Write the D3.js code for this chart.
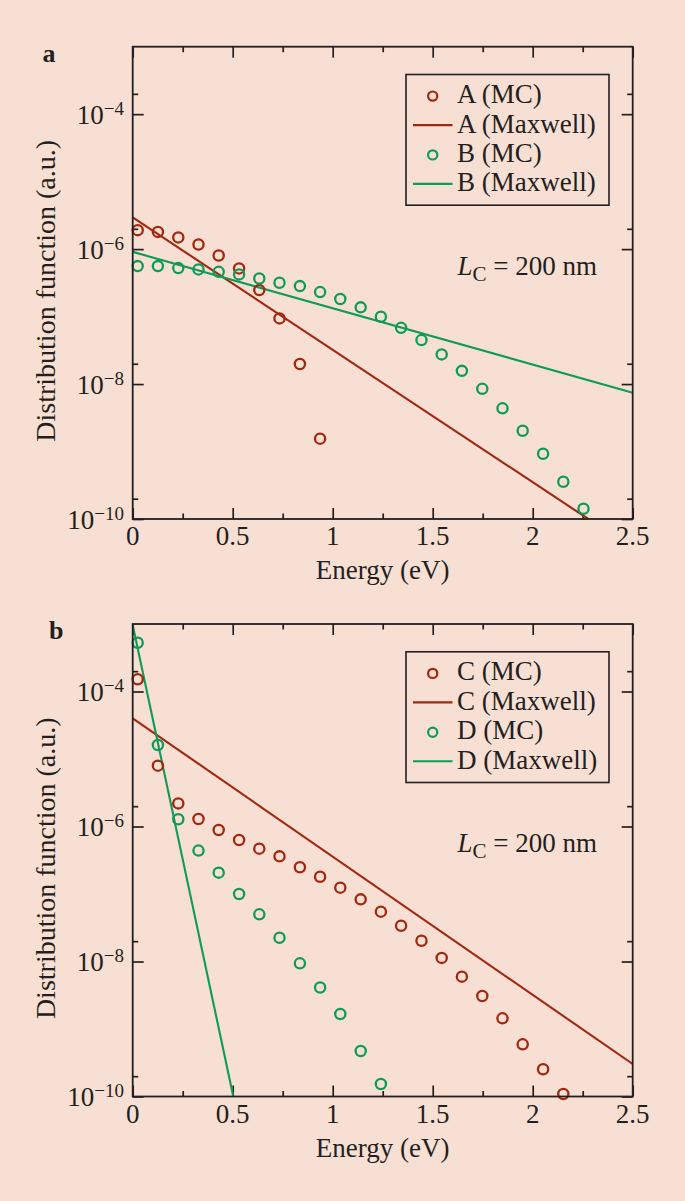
<!DOCTYPE html>
<html><head><meta charset="utf-8">
<script src="https://cdn.jsdelivr.net/npm/d3@7"></script>
<style>
html,body{margin:0;padding:0;background:#f8dfd4;}
svg{display:block;}
text{font-family:"Liberation Serif","Times New Roman",serif;fill:#231f20;}
</style></head>
<body>
<script>
// ---------- data ----------
const mcEnergies = [0.025,0.126,0.228,0.329,0.430,0.532,0.633,0.734,0.836,0.937,1.038,1.140,1.241,1.342,1.444,1.545,1.646,1.748,1.849,1.950,2.052,2.153,2.254];
const aMC = [1.91e-6,1.80e-6,1.49e-6,1.17e-6,8.05e-7,5.17e-7,2.47e-7,9.4e-8,1.98e-8,1.55e-9];
const bMC = [5.6e-7,5.6e-7,5.24e-7,5.0e-7,4.61e-7,4.22e-7,3.67e-7,3.17e-7,2.83e-7,2.31e-7,1.82e-7,1.37e-7,9.93e-8,6.82e-8,4.49e-8,2.75e-8,1.57e-8,8.5e-9,4.37e-9,2.03e-9,9.27e-10,3.57e-10,1.42e-10];
const cMC = [1.52e-4,7.96e-6,2.2e-6,1.29e-6,8.87e-7,6.31e-7,4.69e-7,3.61e-7,2.49e-7,1.80e-7,1.24e-7,8.33e-8,5.47e-8,3.39e-8,2.03e-8,1.13e-8,5.96e-9,3.08e-9,1.44e-9,5.93e-10,2.53e-10,1.09e-10];
const dMC = [5.28e-4,1.61e-5,1.28e-6,4.4e-7,2.07e-7,1.0e-7,5.0e-8,2.25e-8,9.4e-9,4.12e-9,1.67e-9,4.72e-10,1.53e-10];
// Maxwell fits (straight lines on the log scale): endpoints
const aMaxE = [0, 2.278], aMaxV = [2.95e-6, 1e-10];
const bMaxE = [0, 2.5],   bMaxV = [9.1e-7, 7.43e-9];
const cMaxE = [0, 2.5],   cMaxV = [4.01e-5, 3.03e-10];
const dMaxE = [0, 0.503], dMaxV = [9.7e-4, 1e-10];
const xMajor = [0,0.5,1,1.5,2,2.5];
const xMajorLabels = ["0","0.5","1","1.5","2","2.5"];
const xMinor = [0.25,0.75,1.25,1.75,2.25];
const yMajor = [1e-10,1e-8,1e-6,1e-4];
const yMajorExp = ["10","8","6","4"];
const yMinor = [2e-10,2e-8,2e-6,2e-4];
const panelLetters = ["a","b"];
const legendA = ["A (MC)","A (Maxwell)","B (MC)","B (Maxwell)"];
const legendB = ["C (MC)","C (Maxwell)","D (MC)","D (Maxwell)"];

const RED = "#a1280f", GREEN = "#0c9c58", INK = "#231f20";
const W = 685, H = 1201;
const svg = d3.select("body").append("svg").attr("width",W).attr("height",H);
svg.append("rect").attr("width",W).attr("height",H).attr("fill","#f8dfd4");

const L = 132.7, R = 632.7;
const panels = [
  {top:46.7, bottom:519, letter:panelLetters[0], letterX:42.5, legend:legendA,
   series:[{e:mcEnergies.slice(0,aMC.length), v:aMC, c:RED},{e:mcEnergies.slice(0,bMC.length), v:bMC, c:GREEN}],
   lines:[{e:aMaxE,v:aMaxV,c:RED},{e:bMaxE,v:bMaxV,c:GREEN}]},
  {top:624, bottom:1096.5, letter:panelLetters[1], letterX:49, legend:legendB,
   series:[{e:mcEnergies.slice(0,cMC.length), v:cMC, c:RED},{e:mcEnergies.slice(0,dMC.length), v:dMC, c:GREEN}],
   lines:[{e:cMaxE,v:cMaxV,c:RED},{e:dMaxE,v:dMaxV,c:GREEN}]}
];

panels.forEach((p,pi)=>{
  const x = d3.scaleLinear().domain([0,2.5]).range([L,R]);
  const y = d3.scaleLog().domain([1e-10,1e-3]).range([p.bottom,p.top]);
  const g = svg.append("g");
  const clipId = "clip"+pi;
  svg.append("clipPath").attr("id",clipId).append("rect")
    .attr("x",L).attr("y",p.top).attr("width",R-L).attr("height",p.bottom-p.top);

  // ticks via d3 axes (inward)
  const mk = (axis, tr) => {
    const a = g.append("g").attr("transform",tr).call(axis);
    a.select(".domain").remove();
    a.selectAll("line").attr("stroke",INK).attr("stroke-width",1.7);
    a.selectAll("text").remove();
  };
  mk(d3.axisBottom(x).tickValues(xMajor).tickSize(-11), `translate(0,${p.bottom})`);
  mk(d3.axisBottom(x).tickValues(xMinor).tickSize(-5.5), `translate(0,${p.bottom})`);
  mk(d3.axisTop(x).tickValues(xMajor).tickSize(-11), `translate(0,${p.top})`);
  mk(d3.axisTop(x).tickValues(xMinor).tickSize(-5.5), `translate(0,${p.top})`);
  mk(d3.axisLeft(y).tickValues(yMajor).tickSize(-11), `translate(${L},0)`);
  mk(d3.axisLeft(y).tickValues(yMinor).tickSize(-5.5), `translate(${L},0)`);
  mk(d3.axisRight(y).tickValues(yMajor).tickSize(-11), `translate(${R},0)`);
  mk(d3.axisRight(y).tickValues(yMinor).tickSize(-5.5), `translate(${R},0)`);

  // data
  const line = d3.line().x(d=>x(d[0])).y(d=>y(d[1]));
  const plot = g.append("g").attr("clip-path",`url(#${clipId})`);
  p.lines.forEach(s=>{
    plot.append("path").attr("d",line(s.e.map((e,i)=>[e,s.v[i]])))
      .attr("fill","none").attr("stroke",s.c).attr("stroke-width",2.1);
  });
  p.series.forEach(s=>{
    g.append("g").selectAll("circle").data(s.v).join("circle")
      .attr("cx",(d,i)=>x(s.e[i])).attr("cy",d=>y(d)).attr("r",5.1)
      .attr("fill","none").attr("stroke",s.c).attr("stroke-width",2.3);
  });

  // frame
  g.append("rect").attr("x",L).attr("y",p.top).attr("width",R-L).attr("height",p.bottom-p.top)
    .attr("fill","none").attr("stroke",INK).attr("stroke-width",1.8);

  // x tick labels
  g.selectAll(".xl").data(xMajor).join("text")
    .attr("x",d=>x(d)).attr("y",p.bottom+26).attr("text-anchor","middle")
    .attr("font-size",27).text((d,i)=>xMajorLabels[i]);
  // y tick labels
  yMajor.forEach((v,i)=>{
    const t = g.append("text").attr("x",124).attr("y",y(v)+9.5).attr("text-anchor","end").attr("font-size",27);
    t.append("tspan").text("10");
    t.append("tspan").attr("dy",-9).attr("font-size",19).text("\u2212"+yMajorExp[i]);
  });
  // axis titles
  g.append("text").attr("x",(L+R)/2).attr("y",p.bottom+60).attr("text-anchor","middle")
    .attr("font-size",27).text("Energy (eV)");
  const cy = (p.top+p.bottom)/2 + 8;
  g.append("text").attr("transform",`translate(55,${cy}) rotate(-90)`).attr("text-anchor","middle")
    .attr("font-size",28).text("Distribution function (a.u.)");
  // panel letter
  g.append("text").attr("x",p.letterX).attr("y",p.top+15).attr("font-size",26).attr("font-weight","bold").text(p.letter);

  // legend
  const lx0 = 406, lx1 = 609, ly0 = p.top+27.8, step = 29.4;
  g.append("rect").attr("x",lx0).attr("y",ly0).attr("width",lx1-lx0).attr("height",130.7)
    .attr("fill","none").attr("stroke",INK).attr("stroke-width",1.6);
  const colors = [RED,RED,GREEN,GREEN];
  p.legend.forEach((lab,i)=>{
    const by = ly0 + 28.6 + i*step;
    if(i%2===0){
      g.append("circle").attr("cx",432.7).attr("cy",by-7).attr("r",4.6)
        .attr("fill","none").attr("stroke",colors[i]).attr("stroke-width",2.2);
    } else {
      g.append("line").attr("x1",413).attr("x2",452.5).attr("y1",by-7.4).attr("y2",by-7.4)
        .attr("stroke",colors[i]).attr("stroke-width",2.1);
    }
    g.append("text").attr("x",457).attr("y",by).attr("font-size",27).text(lab);
  });

  // L_C annotation
  const an = g.append("text").attr("x",457.5).attr("y",p.top+228.3).attr("font-size",27);
  an.append("tspan").attr("font-style","italic").text("L");
  an.append("tspan").attr("dy",6).attr("font-size",21).text("C");
  an.append("tspan").attr("dy",-6).text(" = 200 nm");
});
</script>
</body></html>
